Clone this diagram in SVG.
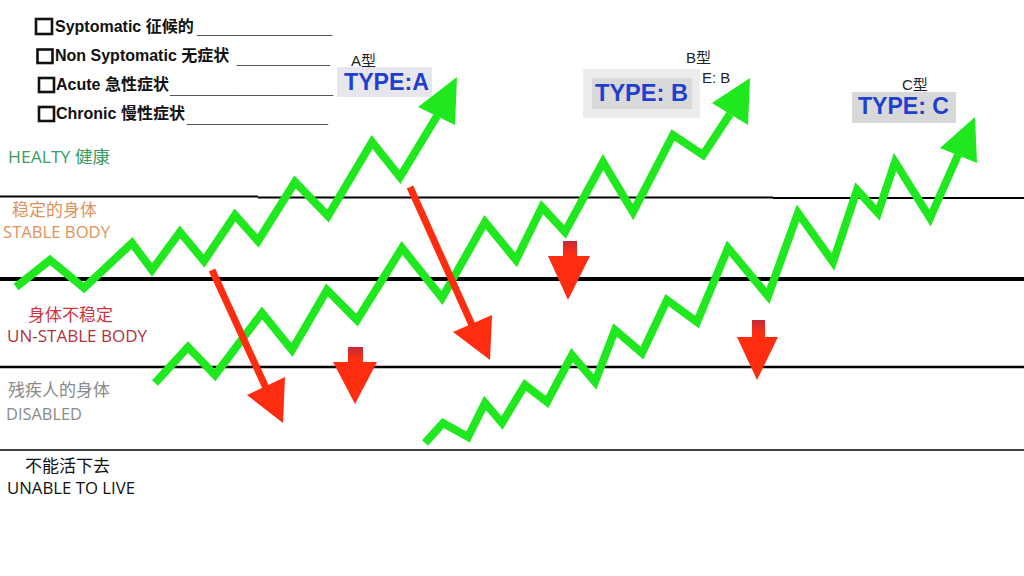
<svg xmlns="http://www.w3.org/2000/svg" width="1024" height="576" viewBox="0 0 1024 576">
<defs>
<style>
.chk{font-family:"Liberation Sans","Noto Sans CJK SC",sans-serif;font-weight:bold;font-size:16px;fill:#111}
.cb{fill:none;stroke:#111;stroke-width:2.6}
.ul{font-family:"Liberation Sans",sans-serif;font-size:14px;fill:#555}
.typ{font-family:"Liberation Sans","Noto Sans CJK SC",sans-serif;font-size:15px;fill:#222}
.big{font-family:"Liberation Sans",sans-serif;font-weight:bold;font-size:24px;fill:#1f3fcf}
.lab{font-family:"Open Sans","Noto Sans CJK SC",sans-serif;font-size:16.5px}
.cjk{font-family:"Noto Sans CJK SC",sans-serif;font-size:17px}
.hl{fill:none;stroke:#000}
.g{fill:none;stroke:#1fe81f;stroke-width:8;stroke-linejoin:miter}
.gh{fill:#1fe81f}
.r{fill:none;stroke:#ff2d10;stroke-width:7}
.rh{fill:#ff2d10}
</style>
<linearGradient id="rg" x1="0" y1="0" x2="0" y2="1">
<stop offset="0" stop-color="#c42a3c"/>
<stop offset="0.22" stop-color="#ff2d10"/>
<stop offset="1" stop-color="#ff2d10"/>
</linearGradient>
</defs>
<rect width="1024" height="576" fill="#fff"/>

<g id="checklist">
<rect class="cb" x="36" y="19" width="16" height="15"/>
<text class="chk" x="55" y="32">Syptomatic 征候的</text>
<text class="ul" x="197" y="33" textLength="135" lengthAdjust="spacingAndGlyphs">_______________</text>
<rect class="cb" x="37.5" y="49.5" width="15" height="13.5"/>
<text class="chk" x="55" y="61">Non Syptomatic 无症状</text>
<text class="ul" x="237" y="63" textLength="93" lengthAdjust="spacingAndGlyphs">__________</text>
<rect class="cb" x="39" y="78" width="15" height="14"/>
<text class="chk" x="56" y="90">Acute 急性症状</text>
<text class="ul" x="170" y="93" textLength="163" lengthAdjust="spacingAndGlyphs">__________________</text>
<rect class="cb" x="39" y="107" width="15" height="14"/>
<text class="chk" x="56" y="119">Chronic 慢性症状</text>
<text class="ul" x="187" y="122" textLength="141" lengthAdjust="spacingAndGlyphs">_______________</text>
</g>

<g id="levels">
<path class="hl" d="M0 196.5H258M258 197.5H773M773 198H1024" stroke-width="2.2"/>
<path class="hl" d="M0 279H1024" stroke-width="4"/>
<path class="hl" d="M0 367H1024" stroke-width="2.5"/>
<path class="hl" d="M0 450H1024" stroke-width="1.5" stroke="#777"/>
</g>

<g id="level-labels">
<text class="lab" x="8" y="163" fill="#3a9c62" textLength="102" lengthAdjust="spacingAndGlyphs">HEALTY 健康</text>
<text class="cjk" x="12" y="216" fill="#e0925c" font-size="16.5">稳定的身体</text>
<text class="lab" x="3" y="238" fill="#e0925c" textLength="107" lengthAdjust="spacingAndGlyphs">STABLE BODY</text>
<text class="cjk" x="28" y="321" fill="#cc3440">身体不稳定</text>
<text class="lab" x="7" y="342" fill="#b0323e" textLength="140" lengthAdjust="spacingAndGlyphs">UN-STABLE BODY</text>
<text class="cjk" x="8" y="396" fill="#8a8a8a">残疾人的身体</text>
<text class="lab" x="6" y="420" fill="#8a8a8a" textLength="76" lengthAdjust="spacingAndGlyphs">DISABLED</text>
<text class="cjk" x="25" y="472" fill="#111" font-size="16.5">不能活下去</text>
<text class="lab" x="7" y="493.5" fill="#111" textLength="128" lengthAdjust="spacingAndGlyphs">UNABLE TO LIVE</text>
</g>

<g id="type-a-label">
<text class="typ" x="351" y="66">A型</text>
<rect x="337" y="67" width="95" height="30" fill="#e6e6ec"/>
<text class="big" x="344" y="90" textLength="85" lengthAdjust="spacingAndGlyphs">TYPE:A</text>
</g>
<g id="type-b-label">
<text class="typ" x="686" y="63">B型</text>
<text class="typ" x="702" y="83" font-size="14">E: B</text>
<rect x="583" y="69" width="117" height="49" fill="#ececec"/>
<rect x="592" y="78" width="100" height="31" fill="#d9d9d9"/>
<text class="big" x="595" y="101" textLength="93" lengthAdjust="spacingAndGlyphs">TYPE: B</text>
</g>
<g id="type-c-label">
<text class="typ" x="902" y="90">C型</text>
<rect x="852" y="92" width="104" height="31" fill="#d8d8d8"/>
<text class="big" x="858" y="114" textLength="91" lengthAdjust="spacingAndGlyphs">TYPE: C</text>
</g>

<g id="connectors">
<g id="path-a">
<polyline class="g" points="16,287 50,260 84,288 132,243 152,270 180,232 204,261 235,215 258,241 295,182 328,216 372,142 400,177 437,116"/>
<polygon class="gh" points="457,77 418,107 455,125"/>
</g>
<g id="path-b">
<polyline class="g" points="155,383 188,347 215,375 262,313 292,350 327,290 357,320 402,248 442,298 485,222 516,260 542,207 565,232 603,162 633,212 673,135 703,155 730,114"/>
<polygon class="gh" points="750,78 712,103 748,125"/>
</g>
<g id="path-c">
<polyline class="g" points="425,443 443,423 468,437 485,403 502,423 525,385 547,402 572,355 595,382 615,330 642,353 667,300 697,322 728,248 768,296 798,213 833,262 857,190 878,213 895,162 930,218 958,155"/>
<polygon class="gh" points="975,117 940,148 977,163"/>
</g>
<g id="drop-1">
<line class="r" x1="212" y1="270" x2="266" y2="388"/>
<polygon class="rh" points="283,423 247,395 285,377"/>
</g>
<g id="drop-2">
<line class="r" x1="410" y1="187" x2="472" y2="325"/>
<polygon class="rh" points="490,360 453,332 492,315"/>
</g>
<polygon id="drop-3" fill="url(#rg)" points="348,347 363,347 363,362 377,362 355,404 333,362 348,362"/>
<polygon id="drop-4" fill="url(#rg)" points="563,241 577,241 577,256 590,256 568,300 548,256 563,256"/>
<polygon id="drop-5" fill="url(#rg)" points="752,320 765,320 765,337 778,337 757,380 737,337 752,337"/>
</g>
</svg>
